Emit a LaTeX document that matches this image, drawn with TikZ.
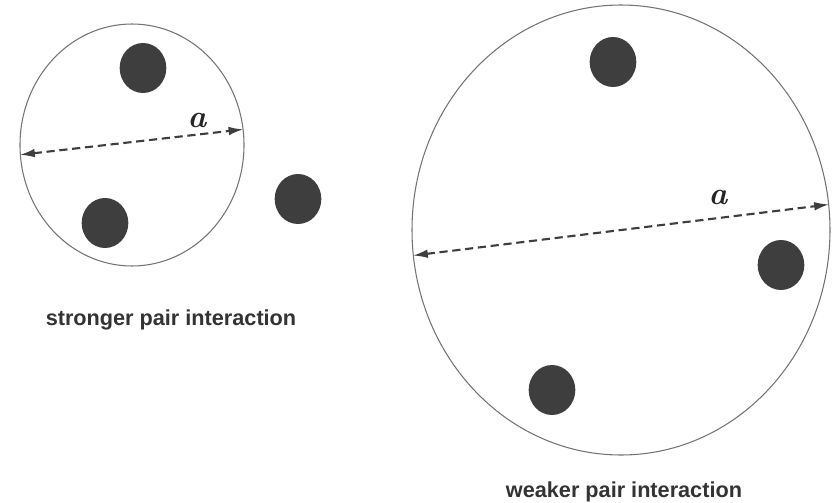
\documentclass[tikz,border=0pt]{standalone}
\usepackage{fontspec}
\newfontfamily\capfont{Liberation Sans}
\usepackage{tikz}
\usetikzlibrary{arrows.meta, shapes.geometric, positioning}
\usepackage{xcolor}
\definecolor{dotgray}{RGB}{62,62,62}
\definecolor{rimgray}{RGB}{115,115,115}

\begin{document}
\begin{tikzpicture}[
    shell/.style={ellipse, draw=rimgray, line width=0.9pt, inner sep=0pt},
    particle/.style={ellipse, fill=dotgray, inner sep=0pt,
                     minimum width=1.4cm, minimum height=1.5cm},
    spacing/.style={{Latex[length=4.5mm, width=2.6mm]}-{Latex[length=4.5mm, width=2.6mm]},
                    dash pattern=on 7pt off 4pt, line width=1.8pt, draw=dotgray},
    symbol/.style={font=\fontsize{27}{27}\selectfont\bfseries\itshape, text=black!85},
    captiontext/.style={font=\capfont\fontsize{18.5}{20}\selectfont\bfseries,
                        text=black!80, anchor=base}
]
\useasboundingbox (0,0) rectangle (24.99,-15.06);
%% Small cell, strong pair interaction
\node[shell, minimum width=6.72cm, minimum height=7.26cm] (cellS) at (3.96,-4.35) {};
\node[particle] (dotS1) at (4.29,-2.04) {};
\node[particle] (dotS2) at (3.15,-6.69) {};
\node[particle] (dotS3) at (8.94,-5.97) {};
\draw[spacing] (cellS.185) -- (cellS.8.6);
\node[symbol] (symS) at (5.91,-3.62) {a};
\node[captiontext] (capS) at (5.13,-9.75) {stronger pair interaction};
%% Large cell, weak pair interaction
\node[shell, minimum width=12.54cm, minimum height=13.5cm] (cellW) at (18.63,-6.9) {};
\node[particle] (dotW1) at (18.39,-1.86) {};
\node[particle] (dotW2) at (23.43,-7.95) {};
\node[particle] (dotW3) at (16.56,-11.7) {};
\draw[spacing] (cellW.187.5) -- (cellW.7.4);
\node[symbol] (symW) at (21.54,-5.93) {a};
\node[captiontext] (capW) at (18.72,-14.91) {weaker pair interaction};
\end{tikzpicture}
\end{document}
